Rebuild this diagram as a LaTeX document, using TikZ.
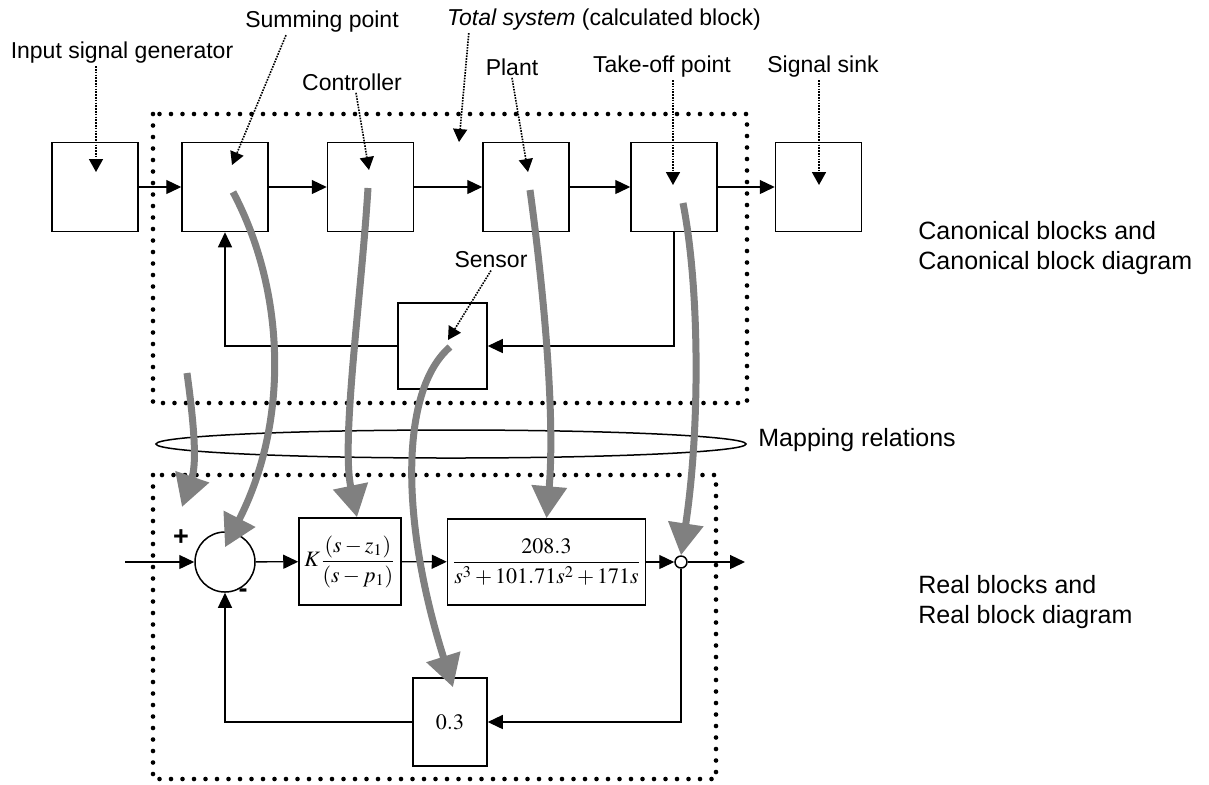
\documentclass[tikz,border=0pt]{standalone}
\usepackage{amsmath}
\usepackage{mathptmx}
\usepackage[no-math]{fontspec}
\setmainfont{Liberation Sans}
\usetikzlibrary{arrows.meta,shapes.geometric}

\tikzset{
  blk/.style  = {rectangle, draw, line width=0.75pt, inner sep=0pt,
                 minimum width=43pt, minimum height=44.5pt},
  sumc/.style = {circle, draw, line width=0.75pt, inner sep=0pt, minimum size=30pt},
  tko/.style  = {circle, draw, line width=0.75pt, fill=white, inner sep=0pt, minimum size=6pt},
  sig/.style  = {-{Triangle[length=7.5pt,width=7pt]}, line width=0.65pt},
  ptr/.style  = {-{Triangle[length=6.5pt,width=7pt]}, line width=0.8pt,
                 dash pattern=on 0.8pt off 0.6pt},
  gmap/.style = {-{Triangle[length=16pt,width=17pt]}, draw=gray, line width=3.5pt},
  frm/.style  = {line width=2.3pt, line cap=round, dash pattern=on 0pt off 5.75pt},
  lab/.style  = {font=\fontsize{11.5}{13}\selectfont, inner sep=1pt},
  side/.style = {font=\fontsize{12.5}{15}\selectfont, align=left, anchor=west, inner sep=0pt},
  mth/.style  = {font=\fontsize{11}{13}\selectfont},
}

\begin{document}
\begin{tikzpicture}[x=0.5pt,y=-0.5pt]
  \useasboundingbox (0,0) rectangle (1209,784);

  % canonical block diagram
  \node[blk] (inB)    at (95,187)    {};
  \node[blk] (sumB)   at (225,187)   {};
  \node[blk] (ctrlB)  at (370.5,187) {};
  \node[blk] (plantB) at (526,187)   {};
  \node[blk] (toB)    at (674,187)   {};
  \node[blk] (sinkB)  at (818.5,187) {};
  \node[blk, minimum width=44.5pt, minimum height=43pt] (senB) at (442.5,346) {};

  \draw[sig] (inB) -- (sumB); \draw[sig] (sumB) -- (ctrlB); \draw[sig] (ctrlB) -- (plantB);
  \draw[sig] (plantB) -- (toB); \draw[sig] (toB) -- (sinkB);
  \draw[sig] (toB.south) |- (senB.east);
  \draw[sig] (senB.west) -| (sumB.south);

  \draw[frm] (153,114) rectangle (747,403);

  % labels and pointers
  \node[lab] (inLab)    at (122,53)  {Input signal generator};
  \node[lab] (sumLab)   at (322,22)  {Summing point};
  \node[lab] (totLab)   at (604,20)  {\textit{Total system} (calculated block)};
  \node[lab] (ctrlLab)  at (352,82)  {Controller};
  \node[lab] (plantLab) at (512,67)  {Plant};
  \node[lab] (toLab)    at (662,67)  {Take-off point};
  \node[lab] (sinkLab)  at (823,67)  {Signal sink};
  \node[lab] (senLab)   at (491,260) {Sensor};

  \coordinate (inTip)    at (96,172);
  \coordinate (sumTip)   at (232,165);
  \coordinate (totTip)   at (459,142);
  \coordinate (ctrlTip)  at (369,170);
  \coordinate (plantTip) at (528,172);
  \coordinate (toTip)    at (673,185);
  \coordinate (sinkTip)  at (819,185);
  \coordinate (senTip)   at (448,340);

  \draw[ptr] (inLab.south -| inTip) -- (inTip);
  \draw[ptr] ([xshift=-18pt]sumLab.south) -- (sumTip);
  \draw[ptr] ([xshift=12pt]totLab.south west) -- (totTip);
  \draw[ptr] ([xshift=2pt]ctrlLab.south) -- (ctrlTip);
  \draw[ptr] (plantLab.south) -- (plantTip);
  \draw[ptr] (toLab.south -| toTip) -- (toTip);
  \draw[ptr] (sinkLab.south -| sinkTip) -- (sinkTip);
  \draw[ptr] (senLab.south) -- (senTip);

  % mapping
  \node[ellipse, draw, line width=0.75pt, inner sep=0pt, minimum width=295pt,
        minimum height=14pt] (mapE) at (451,444) {};

  % real block diagram
  \coordinate (uIn) at (125,562);
  \node[sumc] (sumR) at (225,562) {};
  \node[blk, mth, minimum width=51pt, minimum height=43.5pt] (ctrlR) at (350,561.5)
       {$K\dfrac{\left(s-z_1\right)}{\left(s-p_1\right)}$};
  \node[blk, mth, minimum width=99pt, minimum height=43pt] (plantR) at (546.5,562)
       {$\dfrac{208.3}{s^3+101.71s^2+171s}$};
  \node[tko] (toR) at (681,562) {};
  \coordinate (yOut) at (745,562);
  \node[blk, mth, minimum width=37pt, minimum height=44pt] (gainR) at (450,722) {$0.3$};
  \node[font=\fontsize{13.5}{14}\selectfont\bfseries, inner sep=0pt] (plusR) at (181,538) {+};
  \node[font=\fontsize{13.5}{14}\selectfont\bfseries, inner sep=0pt] (minusR) at (243,593) {-};

  \draw[sig] (uIn) -- (sumR); \draw[sig] (sumR) -- (ctrlR); \draw[sig] (ctrlR) -- (plantR);
  \draw[sig] (plantR) -- (toR); \draw[sig] (toR) -- (yOut);
  \draw[sig] (toR.south) |- (gainR.east);
  \draw[sig] (gainR.west) -| (sumR.south);

  \draw[frm] (153,475) rectangle (716,779);

  % right-hand captions
  \node[side] (canLab)  at (918,248) {Canonical blocks and\\Canonical block diagram};
  \node[side] (mapLab)  at (758,440) {Mapping relations};
  \node[side] (realLab) at (918,602) {Real blocks and\\Real block diagram};

  % gray mapping arrows
  \coordinate (gSum)   at (233,192);
  \coordinate (gCtrl)  at (368,188);
  \coordinate (gPlant) at (530,190);
  \coordinate (gTo)    at (683,203);
  \coordinate (gSen)   at (450,347);
  \coordinate (gMap)   at (187,373);
  \coordinate (gMapE)  at (182,507);
  \draw[gmap] (gSum) .. controls (285,290) and (290,420) .. ([yshift=-8pt]sumR.north);
  \draw[gmap] (gCtrl) .. controls (361,300) and (341,440) .. ([xshift=3.5pt]ctrlR.north);
  \draw[gmap] (gPlant) .. controls (545,300) and (555,420) .. (plantR.north);
  \draw[gmap] (gTo) .. controls (700,290) and (700,430) .. (toR.north);
  \draw[gmap] (gSen) .. controls (400,390) and (400,520) .. ([xshift=1.5pt,yshift=-5pt]gainR.north);
  \draw[gmap] (gMap) .. controls (192,410) and (198,460) .. (gMapE);
\end{tikzpicture}
\end{document}
